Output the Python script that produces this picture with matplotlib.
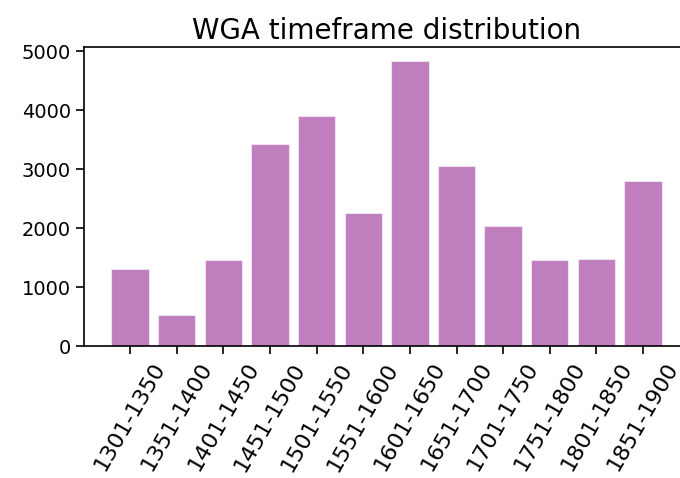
import matplotlib
matplotlib.use('Agg')
import matplotlib.pyplot as plt

periods = ['1301-1350', '1351-1400', '1401-1450', '1451-1500', '1501-1550', '1551-1600',
           '1601-1650', '1651-1700', '1701-1750', '1751-1800', '1801-1850', '1851-1900']
counts = [1305, 522, 1463, 3435, 3912, 2251, 4836, 3061, 2041, 1468, 1480, 2800]

fig = plt.figure(figsize=(6.8, 4.78), dpi=100)
ax = fig.add_axes([0.1235, 0.276, 0.89, 0.626])
ax.bar(range(len(periods)), counts, color='purple', alpha=0.5, edgecolor='white', linewidth=0.8)
ax.set_xticks(range(len(periods)))
ax.set_xticklabels(periods, rotation=60, fontsize=16)
ax.tick_params(axis='y', labelsize=14)
ax.tick_params(width=1.2, length=6)
ax.set_title('WGA timeframe distribution', fontsize=20)
for s in ax.spines.values():
    s.set_linewidth(1.2)

fig.savefig('out.png', dpi=100)
